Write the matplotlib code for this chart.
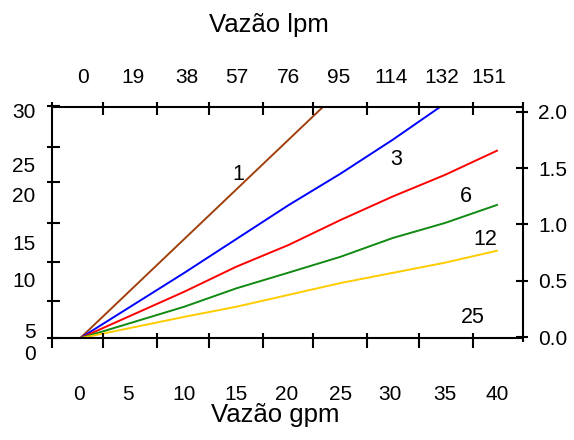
import matplotlib
matplotlib.use("Agg")
import matplotlib.pyplot as plt
from matplotlib.lines import Line2D

# ---- data (gpm vs pressure drop, bar) ----
x_brown = [0, 5, 10, 15, 20, 25]
y_brown = [0, 0.44, 0.88, 1.32, 1.76, 2.20]
x_blue = [0, 10, 15, 20, 25, 30, 35]
y_blue = [0, 0.58, 0.88, 1.18, 1.46, 1.76, 2.08]
x_std = [0, 10, 15, 20, 25, 30, 35, 40]
y_red = [0, 0.413, 0.635, 0.827, 1.049, 1.257, 1.448, 1.663]
y_green = [0, 0.28, 0.443, 0.582, 0.723, 0.889, 1.022, 1.182]
y_yellow = [0, 0.19, 0.28, 0.385, 0.49, 0.58, 0.67, 0.776]

series_labels = ["1", "3", "6", "12", "25"]
gpm_labels = ["0", "5", "10", "15", "20", "25", "30", "35", "40"]
lpm_labels = ["0", "19", "38", "57", "76", "95", "114", "132", "151"]
psi_labels = ["30", "25", "20", "15", "10", "5", "0"]
bar_labels = ["2.0", "1.5", "1.0", "0.5", "0.0"]

W, H = 574, 440
plt.rcParams['font.family'] = ['Liberation Sans', 'DejaVu Sans']
fig = plt.figure(figsize=(W / 100, H / 100), dpi=100)

L, R, T, B = 52, 523, 106.7, 338.3
ax = fig.add_axes([L / W, 1 - B / H, (R - L) / W, (B - T) / H])
ax.set_xlim(-2.69, 42.5)
ax.set_ylim(0, 2.053)
ax.axis('off')

lw = 1.4
ax.plot(x_brown, y_brown, color='#A0400C', lw=lw)
ax.plot(x_blue, y_blue, color='#0000FF', lw=lw)
ax.plot(x_std, y_red, color='#FF0000', lw=lw)
ax.plot(x_std, y_green, color='#108A10', lw=lw)
ax.plot(x_std, y_yellow, color='#FFCC00', lw=lw)


def pline(x0, y0, x1, y1, lw=1.5):
    fig.add_artist(Line2D([x0 / W, x1 / W], [1 - y0 / H, 1 - y1 / H],
                          color='black', lw=lw, transform=fig.transFigure,
                          solid_capstyle='butt'))


def ptext(px, py, s, size=15, ha='center', va='baseline'):
    fig.text(px / W, 1 - py / H, s, fontsize=size, ha=ha, va=va, color='black')


# frame
pline(52, 102, 52, 348)
pline(523, 102, 523, 342)
pline(52, T, 523, T)
pline(52, B, 523, B)

# left ticks
for py in [105.7, 146.7, 182.3, 222.7, 262.3, 300.7, 338.3]:
    pline(47, py, 60, py)
# top / bottom ticks
for px in [103.3, 156.7, 209, 262.7, 313.3, 366.7, 419.3, 473.3]:
    pline(px, 101.7, px, 115)
    pline(px, 332.7, px, 348.3)
# right ticks
right_ticks = [111.7, 168.3, 224.3, 280.7, 337.3]
for py in right_ticks:
    pline(516, py, 528, py)

# tick labels
fs = 15
for px, s in zip([83, 133.3, 186.7, 236.7, 288.3, 339, 391, 442, 489], lpm_labels):
    ptext(px, 83, s, fs)
for px, s in zip([79, 128, 184, 236, 287, 341, 390, 445, 496.7], gpm_labels):
    ptext(px, 400, s, fs)
for py, s in zip([118.3, 171.7, 201.7, 250, 286.7, 338.3, 360], psi_labels):
    ptext(35.5, py, s, fs, ha='right')
for py, s in zip(right_ticks, bar_labels):
    ptext(538, py + 7.6, s, fs, ha='left')

# axis titles
ptext(269, 31.7, "Vazão lpm", 18.5)
ptext(275, 422.3, "Vazão gpm", 18.5)

# curve labels
for (px, py), s in zip([(238, 179.5), (396, 165), (466, 201.5), (485.5, 245), (473.3, 323)],
                       series_labels):
    ptext(px, py, s, 15.5)

fig.savefig("out.png", dpi=100)
